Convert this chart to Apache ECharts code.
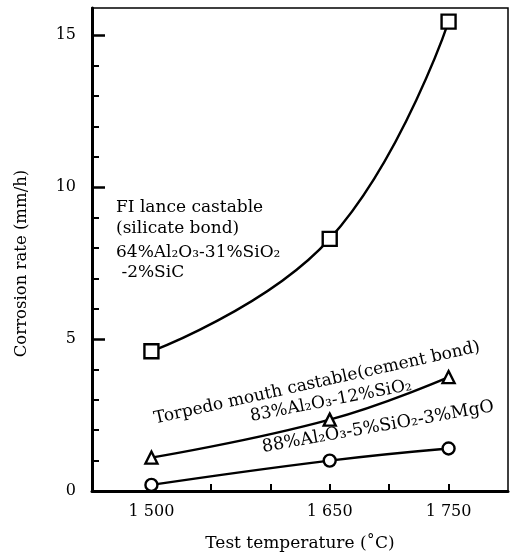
<!DOCTYPE html>
<html>
<head>
<meta charset="utf-8">
<script src="https://cdn.jsdelivr.net/npm/echarts@6/dist/echarts.min.js"></script>
<style>
  html, body { margin: 0; padding: 0; background: #fff; }
  #chart { width: 512px; height: 557px; }
</style>
</head>
<body>
<div id="chart"></div>
<script>
// test temperatures (°C)
const temps = [1500, 1650, 1750];
// corrosion rate (mm/h)
const fiLance = [4.6, 8.3, 15.45];
const torpedo = [1.1, 2.35, 3.75];
const alumina = [0.2, 1.0, 1.4];
// tick labels
const xLabels = [1500, 1650, 1750];
const yLabels = [0, 5, 10, 15];

const FONT = "DejaVu Serif";
const chart = echarts.init(document.getElementById("chart"));

const pts = (ys) => temps.map((t, i) => [t, ys[i]]);

function series(name, data, symbol, size) {
  return {
    name,
    type: "line",
    data: pts(data),
    smooth: 0.45,
    symbol,
    symbolSize: size,
    lineStyle: { color: "#000", width: 2.4 },
    itemStyle: { color: "#fff", borderColor: "#000", borderWidth: 2.4 },
    z: 3,
  };
}

const option = {
  backgroundColor: "#fff",
  animation: false,
  grid: {
    left: 92, right: 4, top: 8, bottom: 65,
    show: true, borderColor: "#000", borderWidth: 1.5,
  },
  xAxis: {
    type: "value",
    min: 1450, max: 1800, interval: 50,
    name: "Test temperature (˚C)",
    nameLocation: "middle",
    nameGap: 44,
    nameTextStyle: { fontFamily: FONT, fontSize: 17, color: "#000" },
    axisLine: { lineStyle: { color: "#000", width: 3 } },
    axisTick: {
      inside: true, length: 7,
      lineStyle: { color: "#000", width: 2 },
      customValues: [1500, 1550, 1600, 1650, 1700, 1750],
    },
    axisLabel: {
      customValues: xLabels,
      formatter: (v) => String(v).slice(0, 1) + " " + String(v).slice(1),
      fontFamily: FONT, fontSize: 16, color: "#000", margin: 13,
    },
    splitLine: { show: false },
  },
  yAxis: [
    {
      type: "value",
      min: 0, max: 15.9,
      name: "Corrosion rate (mm/h)",
      nameLocation: "middle",
      nameGap: 62,
      nameTextStyle: { fontFamily: FONT, fontSize: 16.5, color: "#000", padding: [0, 0, 0, -28] },
      axisLine: { show: true, lineStyle: { color: "#000", width: 3 } },
      axisTick: {
        inside: true, length: 13,
        lineStyle: { color: "#000", width: 2.5 },
        customValues: yLabels,
      },
      axisLabel: {
        customValues: yLabels,
        fontFamily: FONT, fontSize: 16, color: "#000", margin: 16,
      },
      splitLine: { show: false },
    },
    {
      type: "value",
      min: 0, max: 15.9,
      position: "left",
      axisLine: { show: false },
      axisTick: {
        inside: true, length: 7,
        lineStyle: { color: "#000", width: 2 },
        customValues: [1, 2, 3, 4, 6, 7, 8, 9, 11, 12, 13, 14],
      },
      axisLabel: { show: false },
      splitLine: { show: false },
    },
  ],
  series: [
    series("FI lance castable", fiLance, "rect", 14),
    series("Torpedo mouth castable", torpedo, "triangle", 12),
    series("88%Al2O3-5%SiO2-3%MgO", alumina, "circle", 12),
  ],
  graphic: [
    { type: "text", left: 116, top: 197,
      style: { text: "FI lance castable\n(silicate bond)", font: "17px " + FONT, fill: "#000", lineHeight: 21 } },
    { type: "text", left: 116, top: 243,
      style: { text: "64%Al₂O₃-31%SiO₂\n -2%SiC", font: "17px " + FONT, fill: "#000", lineHeight: 20 } },
    { type: "text", x: 317, y: 383, rotation: 12.5 * Math.PI / 180,
      style: { text: "Torpedo mouth castable(cement bond)", font: "17px " + FONT, fill: "#000",
               textAlign: "center", textVerticalAlign: "middle" } },
    { type: "text", x: 331, y: 401, rotation: 11 * Math.PI / 180,
      style: { text: "83%Al₂O₃-12%SiO₂", font: "17px " + FONT, fill: "#000",
               textAlign: "center", textVerticalAlign: "middle" } },
    { type: "text", x: 378, y: 427, rotation: 10 * Math.PI / 180,
      style: { text: "88%Al₂O₃-5%SiO₂-3%MgO", font: "17.5px " + FONT, fill: "#000",
               textAlign: "center", textVerticalAlign: "middle" } },
  ],
};

chart.setOption(option);
</script>
</body>
</html>
